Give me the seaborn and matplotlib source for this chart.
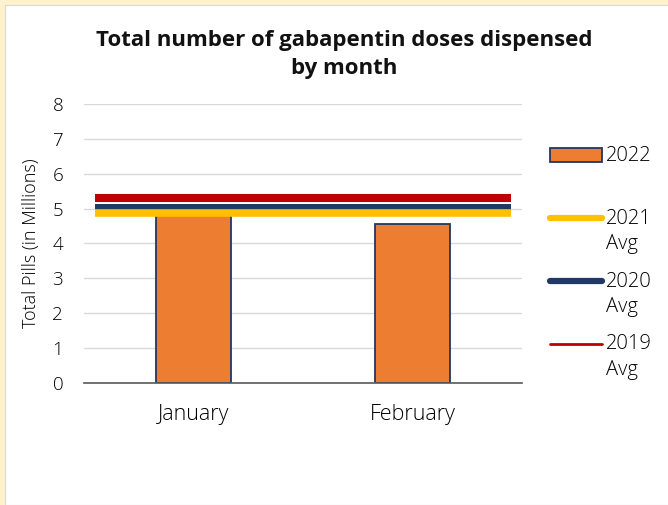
import numpy as np
import matplotlib.pyplot as plt
import seaborn as sns
from matplotlib.patches import Patch, Rectangle
from matplotlib.lines import Line2D

# values (millions of pills)
months = ["January", "February"]
pills_2022 = [4.86, 4.55]
avg_years = ["2021", "2020", "2019"]
avg_values = [4.88, 5.06, 5.29]
avg_colors = ["#FFC000", "#203864", "#C00000"]

sns.set_style("white")
plt.rcParams["font.family"] = ["Open Sans", "DejaVu Sans"]
fs = 14.5
txt = "#000000"

fig = plt.figure(figsize=(6.68, 5.05), dpi=100, facecolor="#FFF2CC")
fig.patches.append(Rectangle((5 / 668, 0), 1, 1 - 5 / 505, transform=fig.transFigure,
                             facecolor="white", edgecolor="#D9D9D9", lw=0.8, zorder=-5))
ax = fig.add_axes([0.1257, 0.2416, 0.6557, 0.5525])
ax.set_facecolor("none")

sns.barplot(x=months, y=pills_2022, color="#ED7D31", saturation=1, width=0.34,
            edgecolor="#203864", linewidth=1.3, ax=ax, zorder=2)

# yearly averages as wide horizontal bands (red first, yellow on top)
line_w = {"2021": 5.5, "2020": 4.3, "2019": 5.8}
for yr, val, col in reversed(list(zip(avg_years, avg_values, avg_colors))):
    ax.hlines(val, -0.45, 1.45, color=col, lw=line_w[yr], zorder=3)

ax.set_xlim(-0.5, 1.5)
ax.set_ylim(0, 8)
ax.set_yticks(range(9))
ax.grid(axis="y", color="#D9D9D9", lw=1.0, zorder=0)
ax.set_axisbelow(True)
sns.despine(ax=ax, left=True)
ax.spines["bottom"].set_color("#595959")
ax.spines["bottom"].set_linewidth(1.2)
ax.set_xticks([-0.5, 0.5, 1.5], minor=True)
ax.tick_params(axis="x", which="minor", length=5, width=1.2, color="#595959", direction="out")
ax.tick_params(axis="x", which="major", length=0, pad=15, labelsize=15.5, labelcolor=txt)
ax.tick_params(axis="y", length=0, pad=15, labelsize=13.5, labelcolor=txt)
for lbl in ax.get_xticklabels() + ax.get_yticklabels():
    lbl.set_fontweight(300)
ax.set_xlabel("")
ax.set_ylabel("Total Pills (in Millions)", fontsize=13, labelpad=9, color=txt,
              fontweight=300)

fig.suptitle("Total number of gabapentin doses dispensed\nby month", x=0.515, y=1 - 30 / 505,
             fontsize=16, fontweight="bold", linespacing=1.45, color="#111111")

handles = [Patch(facecolor="#ED7D31", edgecolor="#203864", lw=1.3)]
labels = ["2022\n "]
leg_w = {"2021": 4.5, "2020": 4.5, "2019": 2.0}
for yr, col in zip(avg_years, avg_colors):
    handles.append(Line2D([0], [0], color=col, lw=leg_w[yr], solid_capstyle="round"))
    labels.append(yr + "\nAvg")
leg = fig.legend(handles, labels, loc="upper left", bbox_to_anchor=(550 / 668, 1 - 146 / 505),
                 frameon=False, fontsize=fs, handlelength=2.6, handletextpad=0.2,
                 labelspacing=0.87, borderaxespad=0, borderpad=0)
for t in leg.get_texts():
    t.set_linespacing(1.35)
    t.set_fontweight(300)
    t.set_color(txt)
# move the markers up to the first text line of each entry
off = 0.68 * fs
for h in leg.legend_handles:
    if isinstance(h, Line2D):
        h.set_ydata(np.asarray(h.get_ydata()) + off)
    else:
        h.set_y(h.get_y() + off)

fig.savefig("out.png", dpi=100, facecolor=fig.get_facecolor())
